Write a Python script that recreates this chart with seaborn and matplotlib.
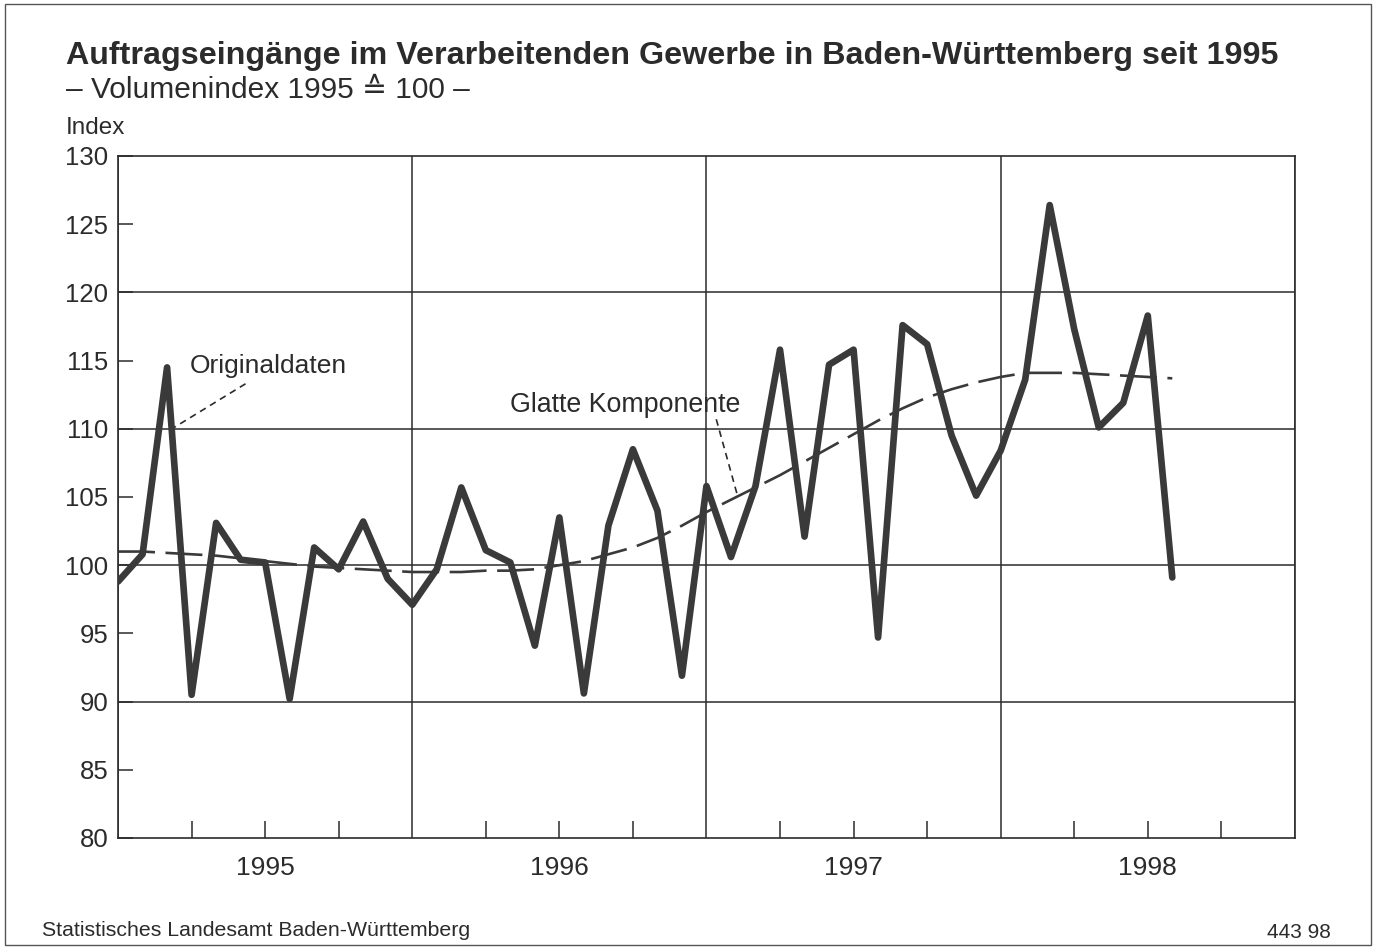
import numpy as np
import pandas as pd
import matplotlib
matplotlib.use("Agg")
import matplotlib.pyplot as plt
import seaborn as sns
from matplotlib.patches import Rectangle

# monthly values, Jan 1995 .. Aug 1998 (month index 0..43)
original = [98.8, 100.8, 114.5, 90.5, 103.1, 100.4, 100.2, 90.2, 101.3, 99.7, 103.2, 99.0,
            97.1, 99.7, 105.7, 101.1, 100.2, 94.1, 103.5, 90.6, 102.9, 108.5, 104.0, 91.9,
            105.8, 100.6, 105.8, 115.8, 102.1, 114.7, 115.8, 94.7, 117.6, 116.2, 109.5, 105.1,
            108.4, 113.6, 126.4, 117.3, 110.1, 111.9, 118.3, 99.1]
glatt = [101.0, 101.0, 100.9, 100.8, 100.7, 100.5, 100.3, 100.1, 99.9, 99.8, 99.7, 99.6,
         99.5, 99.5, 99.5, 99.6, 99.6, 99.7, 100.0, 100.3, 100.8, 101.3, 102.0, 102.9,
         103.9, 104.8, 105.7, 106.6, 107.6, 108.6, 109.6, 110.6, 111.5, 112.3, 112.9, 113.4,
         113.8, 114.1, 114.1, 114.1, 114.0, 113.9, 113.8, 113.7]
years = ["1995", "1996", "1997", "1998"]
y_ticks = list(range(80, 131, 5))

df = pd.DataFrame({"monat": np.arange(len(original)),
                   "Originaldaten": original,
                   "Glatte Komponente": glatt})

sns.set_theme(style="white")
plt.rcParams["font.family"] = ["Liberation Sans", "DejaVu Sans"]
ink = "#2b2b2b"

fig = plt.figure(figsize=(13.79, 9.50), dpi=100)
ax = fig.add_axes([0.0856, 0.1179, 0.9390 - 0.0856, 0.8358 - 0.1179])

# grid lines
for gx in [0, 12, 24, 36, 48]:
    ax.axvline(gx, color=ink, lw=1.1, zorder=1)
for gy in [90, 100, 110, 120]:
    ax.axhline(gy, color=ink, lw=1.1, zorder=1)

sns.lineplot(data=df, x="monat", y="Glatte Komponente", ax=ax, color="#3a3a3a",
             lw=1.9, dashes=False, zorder=2)
ax.lines[-1].set_dashes([14, 4])
sns.lineplot(data=df, x="monat", y="Originaldaten", ax=ax, color="#3a3a3a",
             lw=4.8, zorder=3)

ax.set_xlim(0, 48)
ax.set_ylim(80, 130)
ax.set_xlabel("")
ax.set_ylabel("")

# quarter ticks, year labels at mid-year
qpos = [m for m in range(3, 48, 3) if m % 12 != 0]
qlab = [years[m // 12] if m % 12 == 6 else "" for m in qpos]
ax.set_xticks(qpos)
ax.set_xticklabels(qlab)
ax.tick_params(axis="x", direction="in", length=12, width=1.1, color=ink,
               pad=13, labelsize=19, labelcolor=ink, bottom=True)
ax.set_yticks(y_ticks)
ax.set_yticklabels([str(v) for v in y_ticks])
ax.tick_params(axis="y", direction="in", length=11, width=1.1, color=ink,
               pad=7, labelsize=18.5, labelcolor=ink, left=True)

for s in ax.spines.values():
    s.set_color(ink)
    s.set_linewidth(1.2)

# annotations
ax.text(2.94, 114.1, "Originaldaten", fontsize=19, color=ink)
ax.plot([5.2, 2.2], [113.3, 110.0], color=ink, lw=1.2, dashes=[4, 3])
ax.text(16.0, 111.2, "Glatte Komponente", fontsize=19.3, color=ink)
ax.plot([24.4, 25.25], [110.7, 105.2], color=ink, lw=1.2, dashes=[4, 3])

# texts around the chart
fig.text(0.0479, 0.9326, "Auftragseingänge im Verarbeitenden Gewerbe in Baden-Württemberg seit 1995",
         fontsize=23.2, fontweight="bold", color=ink, va="baseline")
fig.text(0.0479, 0.8968, "– Volumenindex 1995 ≙ 100 –", fontsize=21.5, color=ink, va="baseline")
fig.text(0.0479, 0.859, "Index", fontsize=17.5, color=ink, va="baseline")
fig.text(0.0305, 0.0147, "Statistisches Landesamt Baden-Württemberg", fontsize=15.3,
         color=ink, va="baseline")
fig.text(0.9652, 0.0126, "443 98", fontsize=15, color=ink, va="baseline", ha="right")

fig.patches.append(Rectangle((0.0036, 0.005), 0.9906, 0.9908, transform=fig.transFigure,
                             fill=False, edgecolor="#555555", lw=1.0))

fig.savefig("out.png", dpi=100)
